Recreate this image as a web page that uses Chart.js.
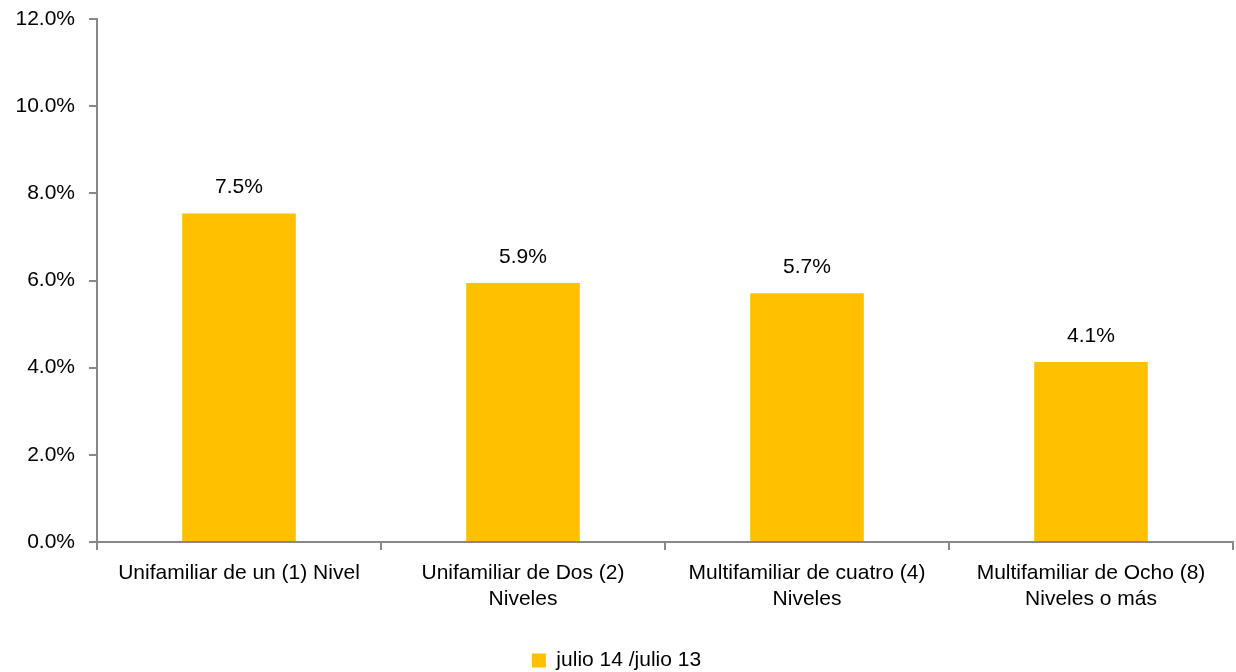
<!DOCTYPE html>
<html>
<head>
<meta charset="utf-8">
<script src="https://cdn.jsdelivr.net/npm/chart.js@4"></script>
<style>
  body { margin: 0; background: #fff; }
  canvas { display: block; }
</style>
</head>
<body>
<canvas id="chart" width="1236" height="672"></canvas>
<script>
// Chart data
const categories = [
  "Unifamiliar de un (1) Nivel",
  ["Unifamiliar de Dos (2)", "Niveles"],
  ["Multifamiliar de cuatro (4)", "Niveles"],
  ["Multifamiliar de Ocho (8)", "Niveles o más"]
];
const seriesName = "julio 14 /julio 13";
const values = [7.54, 5.94, 5.71, 4.13];
const yTicks = [0, 2, 4, 6, 8, 10, 12];

const fontFamily = "'Liberation Sans', Arial, sans-serif";
const fontSize = 21;

// Draw value labels above each bar
const valueLabels = {
  id: "valueLabels",
  afterDatasetsDraw(chart) {
    const ctx = chart.ctx;
    const meta = chart.getDatasetMeta(0);
    ctx.save();
    ctx.font = fontSize + "px " + fontFamily;
    ctx.fillStyle = "#000";
    ctx.textAlign = "center";
    ctx.textBaseline = "middle";
    meta.data.forEach((bar, i) => {
      ctx.fillText(values[i].toFixed(1) + "%", bar.x, bar.y - 26);
    });
    ctx.restore();
  }
};

new Chart(document.getElementById("chart"), {
  type: "bar",
  data: {
    labels: categories,
    datasets: [{
      label: seriesName,
      data: values,
      backgroundColor: "#FFC000",
      borderWidth: 0,
      barPercentage: 0.4,
      categoryPercentage: 1
    }]
  },
  options: {
    responsive: false,
    animation: false,
    layout: { padding: { top: 19, right: 3, bottom: -9, left: 0 } },
    plugins: {
      legend: {
        position: "bottom",
        labels: {
          font: { size: fontSize, family: fontFamily },
          color: "#000",
          boxWidth: 14,
          boxHeight: 14,
          padding: 2
        }
      },
      tooltip: { enabled: false }
    },
    scales: {
      y: {
        min: 0,
        max: 12,
        afterBuildTicks(scale) {
          scale.ticks = yTicks.map(v => ({ value: v }));
        },
        afterFit(scale) {
          scale.width = 97;
          scale.paddingTop = 0;
          scale.paddingBottom = 0;
        },
        ticks: {
          font: { size: fontSize, family: fontFamily },
          color: "#000",
          padding: 14,
          callback: v => v.toFixed(1) + "%"
        },
        grid: { drawOnChartArea: false, tickLength: 8, color: "#888", lineWidth: 2 },
        border: { color: "#888", width: 2 }
      },
      x: {
        afterFit(scale) { scale.height = 106; },
        ticks: {
          font: { size: fontSize, family: fontFamily, lineHeight: 1.2 },
          color: "#000",
          maxRotation: 0,
          autoSkip: false,
          padding: 11
        },
        grid: { offset: true, drawOnChartArea: false, tickLength: 8, color: "#888", lineWidth: 2 },
        border: { color: "#888", width: 2 }
      }
    }
  },
  plugins: [valueLabels]
});
</script>
</body>
</html>
